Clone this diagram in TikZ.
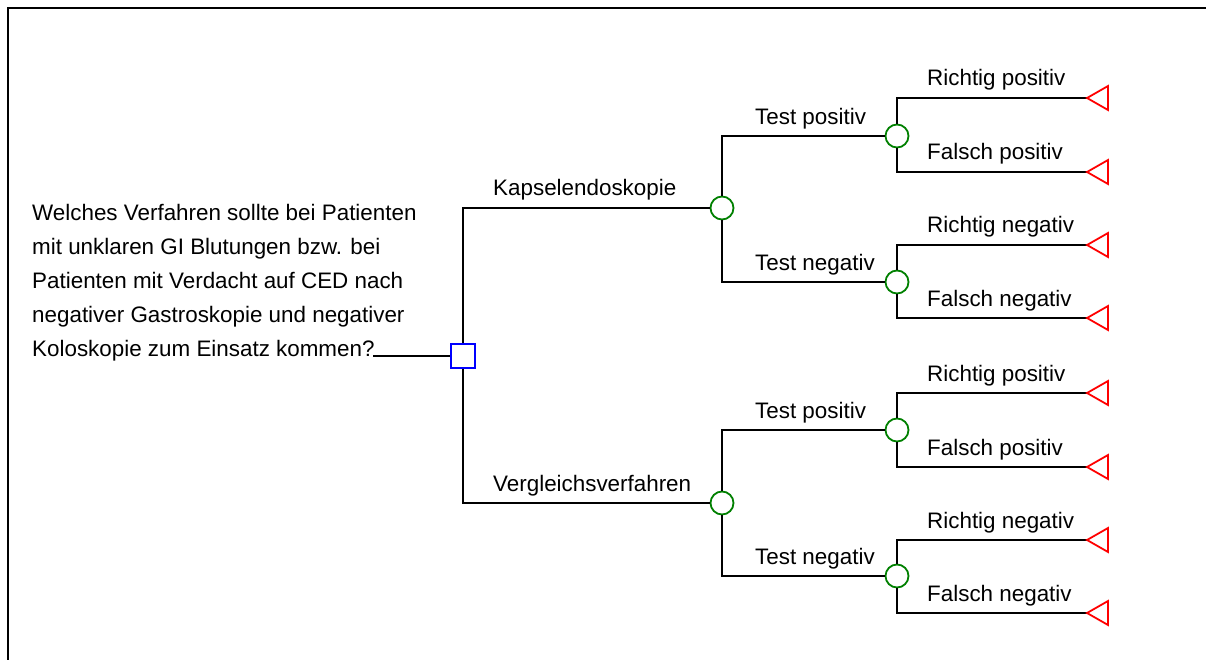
\documentclass[tikz,border=0pt]{standalone}
\usepackage{fontspec}
\setmainfont{Liberation Sans}
\begin{document}
\begin{tikzpicture}[x=1pt,y=-1pt,
  edge/.style={line width=1.8pt, black},
  frame/.style={line width=2.7pt, black},
  decision/.style={rectangle, draw=blue, line width=1.8pt, fill=white,
    minimum size=24pt, inner sep=0pt},
  chance/.style={circle, draw=green!50!black, line width=1.8pt, fill=white,
    minimum size=23pt, inner sep=0pt},
  terminal/.style={draw=red, line width=1.8pt, line join=miter},
  lbl/.style={anchor=base west, inner sep=0pt, font=\fontsize{22.4}{27}\selectfont},
  question/.style={anchor=south west, inner sep=0pt, align=left,
    font=\fontsize{22.4}{34}\selectfont}]

\useasboundingbox (0,0) rectangle (1206,660);

% outer frame (top and left edges)
\draw[frame] (8,660) -- (8,8) -- (1206,8);

% question text and its lead line
\node[question] (q) at (32,361) {Welches Verfahren sollte bei Patienten\\
  mit unklaren GI Blutungen bzw. bei\\
  Patienten mit Verdacht auf CED nach\\
  negativer Gastroskopie und negativer\\
  Koloskopie zum Einsatz kommen?};
\coordinate (qend) at (373,356);

% decision and chance nodes
\node[decision] (D) at (463,356) {};
\node[chance] (K) at (722,208) {};
\node[chance] (V) at (722,503) {};
\node[chance] (KP) at (897,136) {};
\node[chance] (KN) at (897,282) {};
\node[chance] (VP) at (897,430) {};
\node[chance] (VN) at (897,576) {};

% terminal points (triangle tips)
\coordinate (KP1) at (1087,98);
\coordinate (KP2) at (1087,172);
\coordinate (KN1) at (1087,245);
\coordinate (KN2) at (1087,318);
\coordinate (VP1) at (1087,393);
\coordinate (VP2) at (1087,467);
\coordinate (VN1) at (1087,540);
\coordinate (VN2) at (1087,613);

% branches
\draw[edge] (qend) -- (D.west);
\draw[edge] (D.north) |- (K.west);
\draw[edge] (D.south) |- (V.west);
\draw[edge] (K.north) |- (KP.west);
\draw[edge] (K.south) |- (KN.west);
\draw[edge] (V.north) |- (VP.west);
\draw[edge] (V.south) |- (VN.west);
\foreach \c in {KP,KN,VP,VN}{
  \draw[edge] (\c.north) |- (\c1);
  \draw[edge] (\c.south) |- (\c2);
}

% terminal triangles
\foreach \t in {KP1,KP2,KN1,KN2,VP1,VP2,VN1,VN2}{
  \draw[terminal] (\t) -- ++(21,-12) -- ++(0,24) -- cycle;
}

% branch labels
\node[lbl] (lK) at (493,196) {Kapselendoskopie};
\node[lbl] (lV) at (493,491) {Vergleichsverfahren};
\node[lbl] (lKP) at (755,125) {Test positiv};
\node[lbl] (lKN) at (755,270) {Test negativ};
\node[lbl] (lVP) at (755,418) {Test positiv};
\node[lbl] (lVN) at (755,564) {Test negativ};
\node[lbl] (lKP1) at (927,86) {Richtig positiv};
\node[lbl] (lKP2) at (927,160) {Falsch positiv};
\node[lbl] (lKN1) at (927,233) {Richtig negativ};
\node[lbl] (lKN2) at (927,306) {Falsch negativ};
\node[lbl] (lVP1) at (927,381) {Richtig positiv};
\node[lbl] (lVP2) at (927,455) {Falsch positiv};
\node[lbl] (lVN1) at (927,528) {Richtig negativ};
\node[lbl] (lVN2) at (927,601) {Falsch negativ};
\end{tikzpicture}
\end{document}
